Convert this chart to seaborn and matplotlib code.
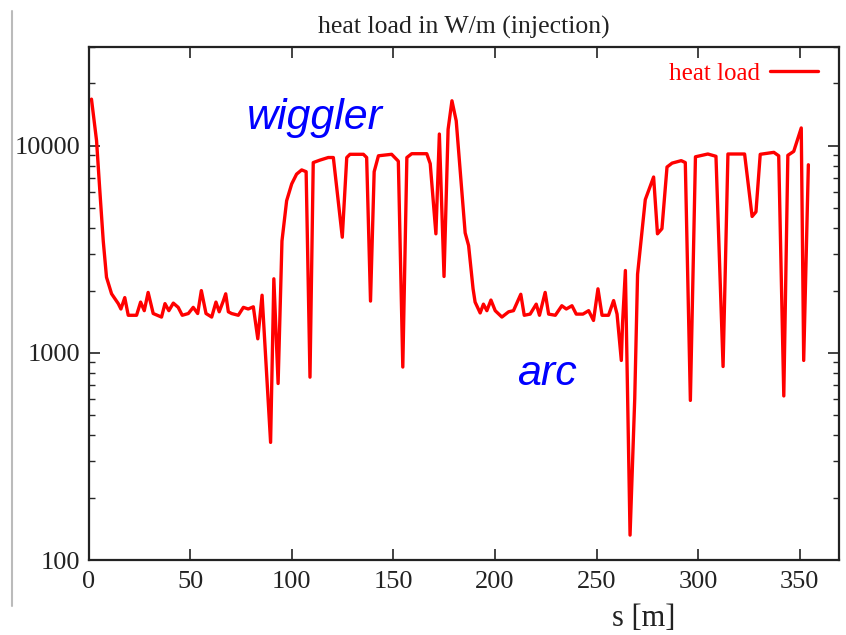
import numpy as np
import pandas as pd
import matplotlib
matplotlib.use("Agg")
import matplotlib.pyplot as plt
from matplotlib.lines import Line2D
from matplotlib.ticker import LogLocator, NullFormatter, FixedLocator
import seaborn as sns

# ---- data ----
s_m = [1.3, 3.8, 5.4, 7.1, 8.7, 11.2, 14.5, 15.8, 17.7, 19.4, 23.5, 25.5, 27.3, 29.2, 31.7,
       35.8, 37.5, 39.4, 41.6, 44.0, 46.0, 49.0, 51.4, 53.6, 55.4, 57.7, 60.5, 62.6, 64.2,
       66.2, 67.4, 68.7, 70.3, 73.6, 76.1, 78.5, 81.0, 83.2, 85.3, 89.5, 91.1, 93.2, 95.1,
       97.4, 99.9, 102.3, 104.8, 107.0, 108.9, 110.5, 113.8, 117.9, 120.4, 124.8, 127.0,
       128.6, 135.2, 136.8, 138.7, 140.5, 142.6, 149.1, 152.4, 154.6, 156.6, 159.0, 166.4,
       168.1, 170.9, 172.6, 174.9, 176.9, 178.8, 180.9, 185.3, 187.0, 189.2, 190.2, 192.7,
       194.3, 196.0, 198.0, 200.1, 203.4, 206.7, 209.1, 212.7, 214.4, 217.3, 220.3, 221.9,
       224.7, 226.4, 229.7, 232.9, 235.1, 237.9, 240.0, 243.3, 246.1, 248.5, 250.7, 252.7,
       255.9, 258.4, 260.1, 262.2, 262.8, 264.2, 266.5, 268.8, 270.2, 271.8, 274.0, 278.1,
       280.0, 282.2, 284.7, 287.2, 291.7, 293.7, 296.2, 298.7, 304.8, 308.8, 312.3, 314.7,
       322.9, 326.6, 328.5, 330.6, 337.3, 339.7, 342.2, 344.2, 347.1, 350.8, 352.0, 354.3]
heat_load = [16800, 10600, 6100, 3470, 2320, 1930, 1730, 1630, 1850, 1520, 1520, 1760, 1600,
             1960, 1550, 1490, 1730, 1600, 1740, 1660, 1520, 1550, 1660, 1550, 2000, 1550,
             1490, 1760, 1580, 1780, 1930, 1580, 1550, 1520, 1660, 1630, 1670, 1170, 1900,
             370, 2280, 712, 3470, 5430, 6550, 7300, 7650, 7500, 764, 8300, 8530, 8780, 8780,
             3620, 8780, 9100, 9100, 8780, 1780, 7500, 8950, 9100, 8430, 855, 8780, 9160,
             9160, 8200, 3760, 11400, 2340, 12000, 16500, 13200, 3800, 3300, 2040, 1760,
             1560, 1720, 1600, 1800, 1600, 1490, 1580, 1600, 1920, 1520, 1540, 1720, 1520,
             1960, 1540, 1520, 1690, 1630, 1690, 1540, 1540, 1600, 1435, 2040, 1520, 1520,
             1790, 1540, 920, 1390, 2500, 132, 600, 2400, 3400, 5500, 7070, 3760, 3980, 7900,
             8250, 8480, 8300, 590, 8850, 9130, 8900, 860, 9130, 9130, 4560, 4800, 9100, 9300,
             8950, 620, 9000, 9400, 12200, 920, 8100]
series_name = "heat load"
x_ticks = [0, 50, 100, 150, 200, 250, 300, 350]
y_ticks = [100, 1000, 10000]
title_text = "heat load in W/m (injection)"
x_label = "s [m]"

df = pd.DataFrame({"s": s_m, "heat": heat_load, "series": series_name})

sns.set_style("ticks")
plt.rcParams["font.family"] = ["Liberation Serif", "DejaVu Serif"]

fig = plt.figure(figsize=(8.46, 6.35), dpi=100)
ax = fig.add_axes([0.105, 0.118, 0.887, 0.808])

sns.lineplot(data=df, x="s", y="heat", hue="series", palette=["#ff0000"],
             estimator=None, sort=False, linewidth=2.4, ax=ax)

ax.set_yscale("log")
ax.set_xlim(0, 369.5)
ax.set_ylim(100, 30000)
ax.xaxis.set_major_locator(FixedLocator(x_ticks))
ax.set_xticklabels([str(t) for t in x_ticks])
ax.yaxis.set_major_locator(FixedLocator(y_ticks))
ax.set_yticklabels([str(t) for t in y_ticks])
ax.yaxis.set_minor_locator(LogLocator(base=10, subs=np.arange(2, 10)))
ax.yaxis.set_minor_formatter(NullFormatter())

ax.tick_params(axis="both", which="major", direction="in", length=8, width=1.2,
               top=True, right=True, labelsize=19, colors="#222222")
ax.tick_params(axis="x", which="major", pad=8)
ax.tick_params(axis="y", which="major", pad=6)
ax.tick_params(axis="y", which="minor", direction="in", length=4, width=1.0,
               left=True, right=True)
for sp in ax.spines.values():
    sp.set_linewidth(1.6)
    sp.set_color("#222222")

ax.set_xlabel(x_label, fontsize=22, color="#222222")
ax.xaxis.set_label_coords(0.74, -0.085)
ax.set_ylabel("")
ax.set_title(title_text, fontsize=18.5, color="#222222", pad=10)

leg = ax.legend(loc="upper right", bbox_to_anchor=(0.985, 0.99), frameon=False,
                markerfirst=False, fontsize=18, handlelength=1.9, borderaxespad=0.0,
                handletextpad=0.4)
for t in leg.get_texts():
    t.set_color("#ff0000")

ax.text(78.0, 12000, "wiggler", color="#0000ff", fontsize=31, style="italic",
        family="Liberation Sans", ha="left", va="baseline")
ax.text(211.0, 700, "arc", color="#0000ff", fontsize=31, style="italic",
        family="Liberation Sans", ha="left", va="baseline")

fig.add_artist(Line2D([0.014, 0.014], [0.045, 0.983], transform=fig.transFigure,
                      color="#bbbbbb", linewidth=1.5))

fig.savefig("out.png", dpi=100, facecolor="white")
